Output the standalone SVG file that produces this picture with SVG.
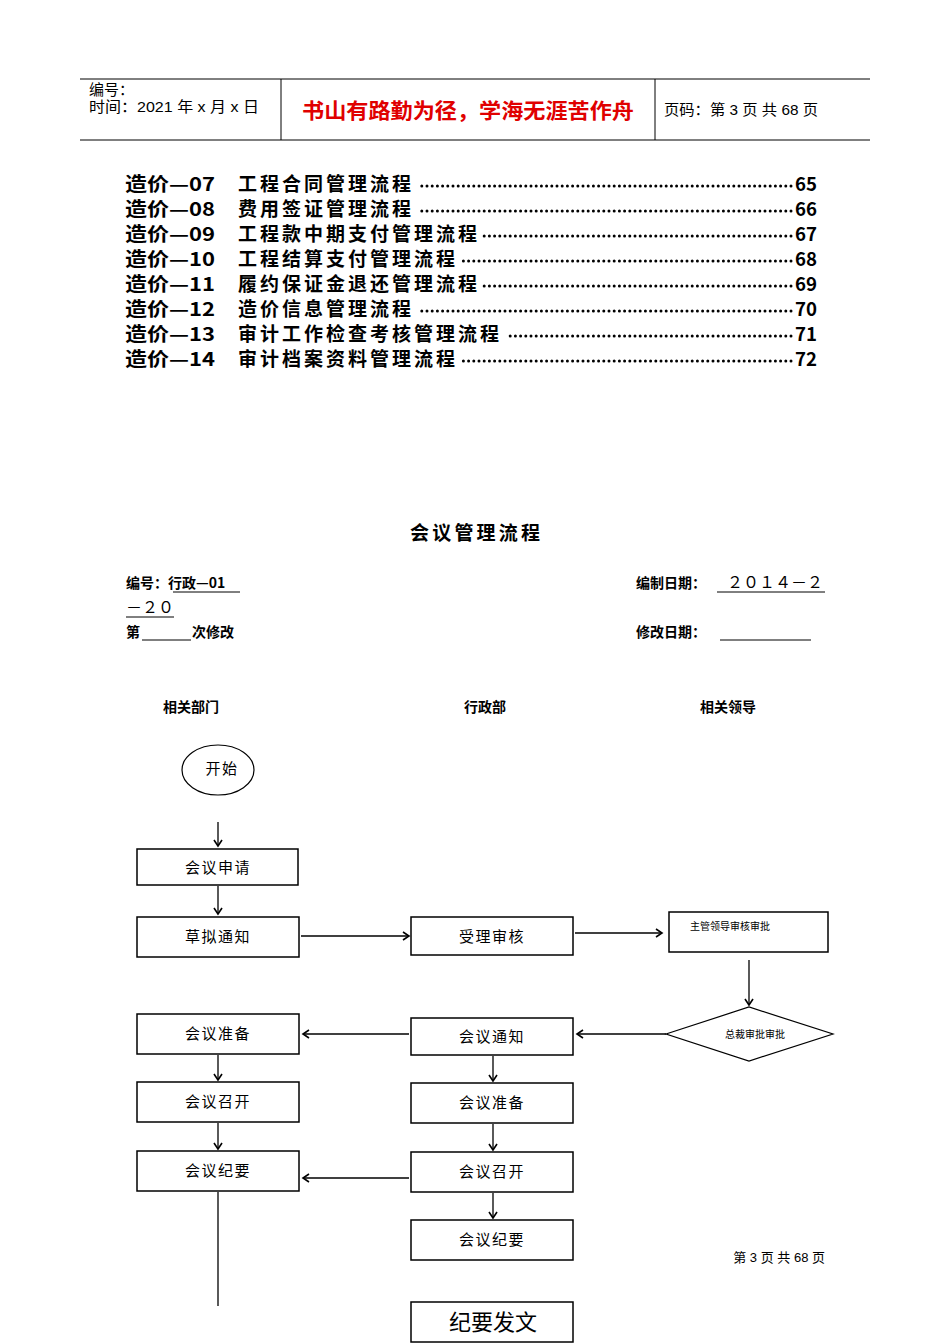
<svg xmlns="http://www.w3.org/2000/svg" width="950" height="1344" viewBox="0 0 950 1344">
<style>
.hd{font-family:"Liberation Sans","Noto Sans CJK SC",sans-serif;font-size:15px;fill:#000}
.toc{font-family:"Noto Sans CJK SC",sans-serif;font-size:19px;font-weight:bold;fill:#000}
.b{font-family:"Noto Sans CJK SC",sans-serif;font-weight:bold;fill:#000}
.n{font-family:"Noto Sans CJK SC",sans-serif;font-size:15px;fill:#000;text-anchor:middle;letter-spacing:1.5px}
.box{fill:#fff;stroke:#000;stroke-width:1.5}
.c{stroke:#000;stroke-width:1.3;fill:none}
.ul{stroke:#000;stroke-width:1}
.dots{stroke:#000;stroke-width:3;stroke-linecap:round;stroke-dasharray:0 5.2}
</style>
<defs>
<marker id="ah" markerWidth="10" markerHeight="10" refX="8" refY="5" orient="auto" markerUnits="userSpaceOnUse">
<path d="M2,1 L8,5 L2,9" fill="none" stroke="#000" stroke-width="1.6"/>
</marker>
</defs>
<rect width="950" height="1344" fill="#fff"/>
<g id="header">
<line x1="80" y1="79" x2="870" y2="79" stroke="#000" stroke-width="1"/>
<line x1="80" y1="140" x2="870" y2="140" stroke="#000" stroke-width="1"/>
<line x1="281" y1="79" x2="281" y2="140" stroke="#000" stroke-width="1"/>
<line x1="655" y1="79" x2="655" y2="140" stroke="#000" stroke-width="1"/>
<text class="hd" x="89" y="95">编号：</text>
<text class="hd" x="89" y="112" textLength="170" lengthAdjust="spacingAndGlyphs">时间：2021 年 x 月 x 日</text>
<text x="302" y="118" textLength="332" lengthAdjust="spacingAndGlyphs" font-family="Noto Sans CJK SC,sans-serif" font-size="21" font-weight="bold" fill="#e00000">书山有路勤为径，学海无涯苦作舟</text>
<text class="hd" x="664" y="115" textLength="154" lengthAdjust="spacingAndGlyphs">页码：第 3 页 共 68 页</text>
</g>
<g id="toc">
<text class="toc" x="125" y="191" textLength="90" lengthAdjust="spacingAndGlyphs">造价—07</text><text class="toc" x="238" y="191" letter-spacing="3">工程合同管理流程</text><line class="dots" x1="791" y1="186" x2="417" y2="186"/><text class="toc" x="795" y="191" textLength="22" lengthAdjust="spacingAndGlyphs">65</text>
<text class="toc" x="125" y="216" textLength="90" lengthAdjust="spacingAndGlyphs">造价—08</text><text class="toc" x="238" y="216" letter-spacing="3">费用签证管理流程</text><line class="dots" x1="791" y1="211" x2="417" y2="211"/><text class="toc" x="795" y="216" textLength="22" lengthAdjust="spacingAndGlyphs">66</text>
<text class="toc" x="125" y="241" textLength="90" lengthAdjust="spacingAndGlyphs">造价—09</text><text class="toc" x="238" y="241" letter-spacing="3">工程款中期支付管理流程</text><line class="dots" x1="791" y1="236" x2="484" y2="236"/><text class="toc" x="795" y="241" textLength="22" lengthAdjust="spacingAndGlyphs">67</text>
<text class="toc" x="125" y="266" textLength="90" lengthAdjust="spacingAndGlyphs">造价—10</text><text class="toc" x="238" y="266" letter-spacing="3">工程结算支付管理流程</text><line class="dots" x1="791" y1="261" x2="462" y2="261"/><text class="toc" x="795" y="266" textLength="22" lengthAdjust="spacingAndGlyphs">68</text>
<text class="toc" x="125" y="291" textLength="90" lengthAdjust="spacingAndGlyphs">造价—11</text><text class="toc" x="238" y="291" letter-spacing="3">履约保证金退还管理流程</text><line class="dots" x1="791" y1="286" x2="484" y2="286"/><text class="toc" x="795" y="291" textLength="22" lengthAdjust="spacingAndGlyphs">69</text>
<text class="toc" x="125" y="316" textLength="90" lengthAdjust="spacingAndGlyphs">造价—12</text><text class="toc" x="238" y="316" letter-spacing="3">造价信息管理流程</text><line class="dots" x1="791" y1="311" x2="417" y2="311"/><text class="toc" x="795" y="316" textLength="22" lengthAdjust="spacingAndGlyphs">70</text>
<text class="toc" x="125" y="341" textLength="90" lengthAdjust="spacingAndGlyphs">造价—13</text><text class="toc" x="238" y="341" letter-spacing="3">审计工作检查考核管理流程</text><line class="dots" x1="791" y1="336" x2="506" y2="336"/><text class="toc" x="795" y="341" textLength="22" lengthAdjust="spacingAndGlyphs">71</text>
<text class="toc" x="125" y="366" textLength="90" lengthAdjust="spacingAndGlyphs">造价—14</text><text class="toc" x="238" y="366" letter-spacing="3">审计档案资料管理流程</text><line class="dots" x1="791" y1="361" x2="462" y2="361"/><text class="toc" x="795" y="366" textLength="22" lengthAdjust="spacingAndGlyphs">72</text>
</g>
<g id="title">
<text class="b" x="410" y="540" font-size="19" textLength="130">会议管理流程</text>
<text class="b" x="126" y="588" font-size="14">编号：行政—01</text>
<line class="ul" x1="173" y1="592" x2="240" y2="592"/>
<text class="b" x="636" y="588" font-size="14">编制日期：</text>
<text x="727" y="588" font-family="Noto Sans CJK SC,sans-serif" font-size="16" textLength="96" lengthAdjust="spacing" fill="#000">２０１４－２</text>
<line class="ul" x1="717" y1="592" x2="825" y2="592"/>
<text x="126" y="613" font-family="Noto Sans CJK SC,sans-serif" font-size="16" textLength="48" lengthAdjust="spacing" fill="#000">－２０</text>
<line class="ul" x1="126" y1="617" x2="174" y2="617"/>
<text class="b" x="126" y="637" font-size="14">第</text>
<line class="ul" x1="142" y1="640" x2="191" y2="640"/>
<text class="b" x="192" y="637" font-size="14">次修改</text>
<text class="b" x="636" y="637" font-size="14">修改日期：</text>
<line class="ul" x1="720" y1="640" x2="811" y2="640"/>
</g>
<g id="lanes">
<text class="b" x="191" y="712" font-size="14" text-anchor="middle">相关部门</text>
<text class="b" x="485" y="712" font-size="14" text-anchor="middle">行政部</text>
<text class="b" x="728" y="712" font-size="14" text-anchor="middle">相关领导</text>
</g>
<g id="connectors">
<line class="c" x1="218" y1="822" x2="218" y2="846" marker-end="url(#ah)"/>
<line class="c" x1="218" y1="886" x2="218" y2="914" marker-end="url(#ah)"/>
<line class="c" x1="301" y1="936" x2="409" y2="936" marker-end="url(#ah)"/>
<line class="c" x1="575" y1="933" x2="662" y2="933" marker-end="url(#ah)"/>
<line class="c" x1="749" y1="960" x2="749" y2="1005" marker-end="url(#ah)"/>
<line class="c" x1="666" y1="1034" x2="577" y2="1034" marker-end="url(#ah)"/>
<line class="c" x1="409" y1="1034" x2="303" y2="1034" marker-end="url(#ah)"/>
<line class="c" x1="218" y1="1055" x2="218" y2="1080" marker-end="url(#ah)"/>
<line class="c" x1="218" y1="1123" x2="218" y2="1149" marker-end="url(#ah)"/>
<line class="c" x1="218" y1="1192" x2="218" y2="1306"/>
<line class="c" x1="493" y1="1056" x2="493" y2="1081" marker-end="url(#ah)"/>
<line class="c" x1="493" y1="1124" x2="493" y2="1150" marker-end="url(#ah)"/>
<line class="c" x1="409" y1="1178" x2="303" y2="1178" marker-end="url(#ah)"/>
<line class="c" x1="493" y1="1193" x2="493" y2="1218" marker-end="url(#ah)"/>
</g>
<g id="n-start"><ellipse cx="218" cy="770" rx="36" ry="25" fill="#fff" stroke="#000" stroke-width="1.2"/><text class="n" x="222" y="774">开始</text></g>
<g id="n-apply"><rect class="box" x="137" y="849" width="161" height="36"/><text class="n" x="218" y="873">会议申请</text></g>
<g id="n-draft"><rect class="box" x="137" y="917" width="162" height="40"/><text class="n" x="218" y="942">草拟通知</text></g>
<g id="n-review"><rect class="box" x="411" y="917" width="162" height="38"/><text class="n" x="492" y="942">受理审核</text></g>
<g id="n-lead"><rect class="box" x="669" y="912" width="159" height="40"/><text x="690" y="930" font-family="Noto Sans CJK SC,sans-serif" font-size="10" fill="#000">主管领导审核审批</text></g>
<g id="n-ceo"><polygon points="666,1034 749,1007 833,1034 749,1061" fill="#fff" stroke="#000" stroke-width="1.2"/><text x="755" y="1038" text-anchor="middle" font-family="Noto Sans CJK SC,sans-serif" font-size="10" fill="#000">总裁审批审批</text></g>
<g id="n-notice"><rect class="box" x="411" y="1018" width="162" height="37"/><text class="n" x="492" y="1042">会议通知</text></g>
<g id="n-prep-l"><rect class="box" x="137" y="1014" width="162" height="40"/><text class="n" x="218" y="1039">会议准备</text></g>
<g id="n-hold-l"><rect class="box" x="137" y="1082" width="162" height="40"/><text class="n" x="218" y="1107">会议召开</text></g>
<g id="n-min-l"><rect class="box" x="137" y="1151" width="162" height="40"/><text class="n" x="218" y="1176">会议纪要</text></g>
<g id="n-prep-r"><rect class="box" x="411" y="1083" width="162" height="40"/><text class="n" x="492" y="1108">会议准备</text></g>
<g id="n-hold-r"><rect class="box" x="411" y="1152" width="162" height="40"/><text class="n" x="492" y="1177">会议召开</text></g>
<g id="n-min-r"><rect class="box" x="411" y="1220" width="162" height="40"/><text class="n" x="492" y="1245">会议纪要</text></g>
<g id="n-issue"><rect class="box" x="411" y="1302" width="162" height="40"/><text class="n" x="493" y="1330" style="font-size:22px;letter-spacing:0">纪要发文</text></g>
<g id="footer"><text x="825" y="1262" text-anchor="end" font-family="Liberation Sans,Noto Sans CJK SC,sans-serif" font-size="13" fill="#000">第 3 页 共 68 页</text></g>
</svg>
